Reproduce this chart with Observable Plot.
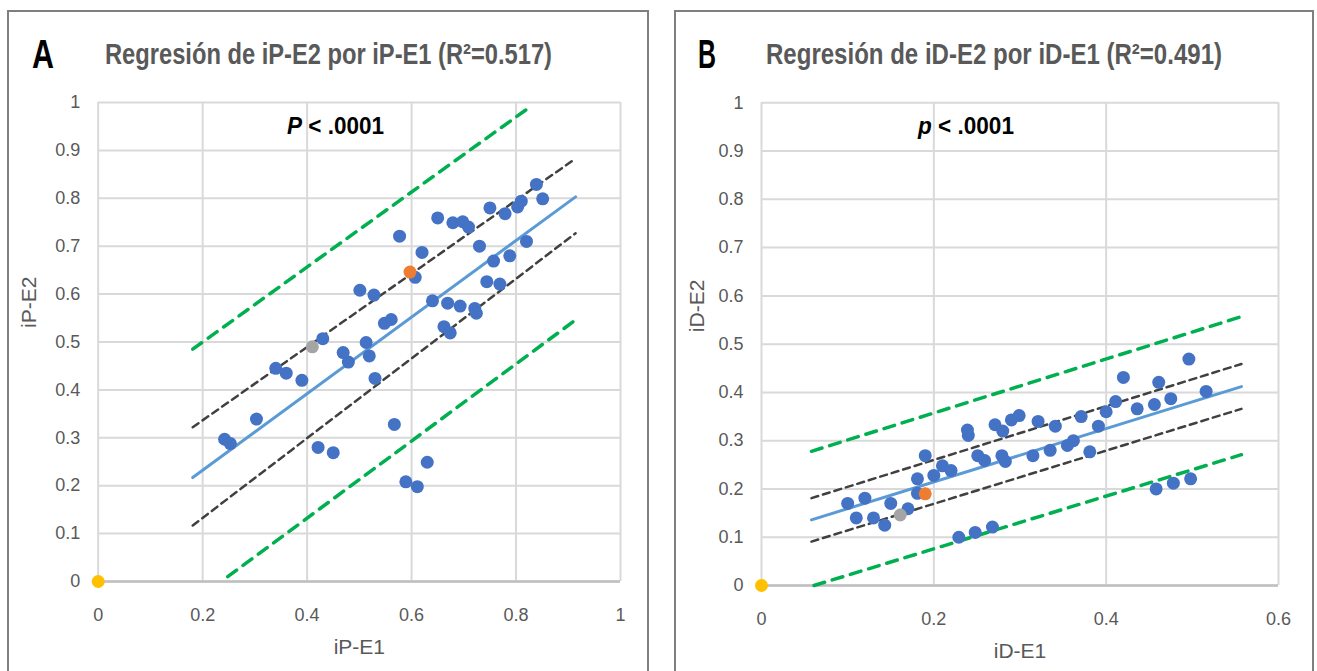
<!DOCTYPE html>
<html><head><meta charset="utf-8">
<script src="https://cdn.jsdelivr.net/npm/d3@7"></script>
<script src="https://cdn.jsdelivr.net/npm/@observablehq/plot@0.6"></script>
<style>
body{margin:0;background:#fff;}
#page{position:relative;width:1317px;height:671px;overflow:hidden;background:#fff;}
.frame{position:absolute;border:2px solid #7f7f7f;box-sizing:border-box;}
.chart{position:absolute;top:0;}
#overlay{position:absolute;left:0;top:0;pointer-events:none;}
</style></head><body>
<div id="page">
  <div class="frame" style="left:7px;top:10px;width:642px;height:700px"></div>
  <div class="frame" style="left:674px;top:10px;width:640px;height:700px"></div>
  <div id="chartA" class="chart" style="left:0px"></div>
  <div id="chartB" class="chart" style="left:660px"></div>
  <svg id="overlay" width="1317" height="671"></svg>
</div>
<script>
// ---------- tick labels ----------
const yTicks = [0, 0.1, 0.2, 0.3, 0.4, 0.5, 0.6, 0.7, 0.8, 0.9, 1];
const xTicksA = [0, 0.2, 0.4, 0.6, 0.8, 1];
const xTicksB = [0, 0.2, 0.4, 0.6];

// ---------- Panel A: iP-E1 vs iP-E2 ----------
const aX = [0.242,0.253,0.303,0.340,0.360,0.390,0.430,0.469,0.479,0.513,0.519,0.530,0.548,0.561,0.501,0.528,0.577,0.620,0.607,0.640,0.669,0.693,0.721,0.724,0.662,0.674,0.650,0.679,0.698,0.709,0.730,0.750,0.779,0.757,0.788,0.744,0.769,0.803,0.810,0.820,0.839,0.851,0.421,0.450,0.567,0.589,0.611,0.630];
const aY = [0.297,0.288,0.339,0.445,0.435,0.420,0.507,0.478,0.458,0.499,0.471,0.424,0.539,0.547,0.608,0.598,0.721,0.687,0.635,0.586,0.581,0.575,0.570,0.560,0.532,0.519,0.759,0.749,0.751,0.740,0.700,0.780,0.768,0.669,0.680,0.626,0.621,0.782,0.794,0.710,0.829,0.799,0.280,0.269,0.328,0.208,0.198,0.249];
const aGray = [0.410, 0.490];
const aOrange = [0.597, 0.646];
const aOrigin = [0, 0];
const aFitX = [0.181, 0.914],   aFitY = [0.217, 0.803];
const aCiUpX = [0.181, 0.914],  aCiUpY = [0.322, 0.883];
const aCiLoX = [0.181, 0.914],  aCiLoY = [0.117, 0.727];
const aPiUpX = [0.181, 0.831],  aPiUpY = [0.485, 0.994];
const aPiLoX = [0.248, 0.914],  aPiLoY = [0.010, 0.546];

// ---------- Panel B: iD-E1 vs iD-E2 ----------
const bX = [0.100,0.120,0.110,0.130,0.143,0.150,0.170,0.181,0.181,0.190,0.200,0.210,0.220,0.239,0.240,0.251,0.259,0.271,0.280,0.290,0.299,0.279,0.283,0.229,0.248,0.268,0.321,0.315,0.335,0.341,0.355,0.362,0.371,0.381,0.391,0.400,0.411,0.420,0.436,0.456,0.461,0.475,0.496,0.516,0.458,0.478,0.498];
const bY = [0.170,0.181,0.140,0.140,0.125,0.170,0.159,0.221,0.191,0.269,0.228,0.248,0.238,0.322,0.311,0.269,0.259,0.333,0.320,0.343,0.352,0.269,0.257,0.100,0.110,0.121,0.340,0.269,0.280,0.330,0.290,0.300,0.350,0.277,0.330,0.360,0.381,0.431,0.366,0.375,0.421,0.387,0.469,0.402,0.200,0.212,0.221];
const bGray = [0.161, 0.146];
const bOrange = [0.190, 0.190];
const bOrigin = [0, 0];
const bFitX = [0.058, 0.557],   bFitY = [0.136, 0.412];
const bCiUpX = [0.058, 0.557],  bCiUpY = [0.181, 0.459];
const bCiLoX = [0.058, 0.557],  bCiLoY = [0.091, 0.366];
const bPiUpX = [0.058, 0.557],  bPiUpY = [0.278, 0.557];
const bPiLoX = [0.061, 0.557],  bPiLoY = [0.000, 0.271];

const FONT = '"Liberation Sans Narrow","Liberation Sans",Arial,sans-serif';
const pts = (xs, ys) => xs.map((x, i) => ({x, y: ys[i]}));

function panel(cfg) {
  const grid = {stroke: "#d9d9d9", strokeOpacity: 1, strokeWidth: 2};
  return Plot.plot({
    width: cfg.width, height: 671,
    marginLeft: cfg.ml, marginRight: cfg.mr, marginTop: cfg.mt, marginBottom: cfg.mb,
    x: {domain: [0, cfg.xmax]},
    y: {domain: [0, 1]},
    style: {fontFamily: FONT, color: "#595959", background: "transparent", overflow: "visible"},
    marks: [
      Plot.gridX(cfg.xTicks, grid),
      Plot.gridY(yTicks, grid),
      Plot.ruleY([0], {stroke: "#bfbfbf", strokeWidth: 2.5}),
      Plot.axisX(cfg.xTicks, {tickSize: 0, tickPadding: 27, label: null, fontSize: 18, tickFormat: d => String(d)}),
      Plot.axisY(yTicks, {tickSize: 0, tickPadding: 18, label: null, fontSize: 18, tickFormat: d => String(d)}),
      Plot.line(pts(cfg.piUpX, cfg.piUpY), {x: "x", y: "y", stroke: "#00b050", strokeWidth: 3.5, strokeDasharray: "11,8"}),
      Plot.line(pts(cfg.piLoX, cfg.piLoY), {x: "x", y: "y", stroke: "#00b050", strokeWidth: 3.5, strokeDasharray: "11,8"}),
      Plot.line(pts(cfg.ciUpX, cfg.ciUpY), {x: "x", y: "y", stroke: "#404040", strokeWidth: 2.5, strokeDasharray: "7,5"}),
      Plot.line(pts(cfg.ciLoX, cfg.ciLoY), {x: "x", y: "y", stroke: "#404040", strokeWidth: 2.5, strokeDasharray: "7,5"}),
      Plot.line(pts(cfg.fitX, cfg.fitY), {x: "x", y: "y", stroke: "#5b9bd5", strokeWidth: 3}),
      Plot.dot(pts(cfg.xs, cfg.ys), {x: "x", y: "y", r: 6.5, fill: "#4472c4"}),
      Plot.dot([{x: cfg.gray[0], y: cfg.gray[1]}], {x: "x", y: "y", r: 6.5, fill: "#a5a5a5"}),
      Plot.dot([{x: cfg.orange[0], y: cfg.orange[1]}], {x: "x", y: "y", r: 6.5, fill: "#ed7d31"}),
      Plot.dot([{x: cfg.origin[0], y: cfg.origin[1]}], {x: "x", y: "y", r: 6.5, fill: "#ffc000"}),
      Plot.text([cfg.xLabel], {text: d => d, frameAnchor: "bottom", dy: 72, fontSize: 21, fill: "#595959"}),
      Plot.text([cfg.yLabel], {text: d => d, frameAnchor: "left", dx: cfg.ydx, dy: cfg.ydy, rotate: -90, fontSize: 21, fill: "#595959"})
    ]
  });
}

document.getElementById("chartA").append(panel({
  width: 660, ml: 97.7, mr: 40, mt: 102, mb: 90, xmax: 1, xTicks: xTicksA,
  xs: aX, ys: aY, gray: aGray, orange: aOrange, origin: aOrigin,
  fitX: aFitX, fitY: aFitY, ciUpX: aCiUpX, ciUpY: aCiUpY, ciLoX: aCiLoX, ciLoY: aCiLoY,
  piUpX: aPiUpX, piUpY: aPiUpY, piLoX: aPiLoX, piLoY: aPiLoY,
  xLabel: "iP-E1", yLabel: "iP-E2", ydx: -69, ydy: -14
}));
document.getElementById("chartB").append(panel({
  width: 657, ml: 101, mr: 39, mt: 102.3, mb: 86, xmax: 0.6, xTicks: xTicksB,
  xs: bX, ys: bY, gray: bGray, orange: bOrange, origin: bOrigin,
  fitX: bFitX, fitY: bFitY, ciUpX: bCiUpX, ciUpY: bCiUpY, ciLoX: bCiLoX, ciLoY: bCiLoY,
  piUpX: bPiUpX, piUpY: bPiUpY, piLoX: bPiLoX, piLoY: bPiLoY,
  xLabel: "iD-E1", yLabel: "iD-E2", ydx: -64, ydy: -12
}));

// ---------- titles & annotations ----------
const ov = d3.select("#overlay");
function txt(x, y, size, fill, len) {
  return ov.append("text").attr("x", x).attr("y", y)
    .attr("font-family", FONT).attr("font-size", size).attr("font-weight", "bold")
    .attr("fill", fill).attr("textLength", len).attr("lengthAdjust", "spacingAndGlyphs");
}
txt(32, 68, 40, "#000", 22).text("A");
txt(698, 68, 40, "#000", 18).text("B");
txt(105, 64, 29, "#595959", 447).text("Regresión de iP-E2 por iP-E1 (R²=0.517)");
txt(766, 64, 29, "#595959", 456).text("Regresión de iD-E2 por iD-E1 (R²=0.491)");
function pval(x, w, p) {
  const t = txt(x, 134, 24, "#000", w);
  t.append("tspan").attr("font-style", "italic").text(p);
  t.append("tspan").text(" < .0001");
}
pval(287, 97, "P");
pval(918, 96, "p");
</script>
</body></html>
